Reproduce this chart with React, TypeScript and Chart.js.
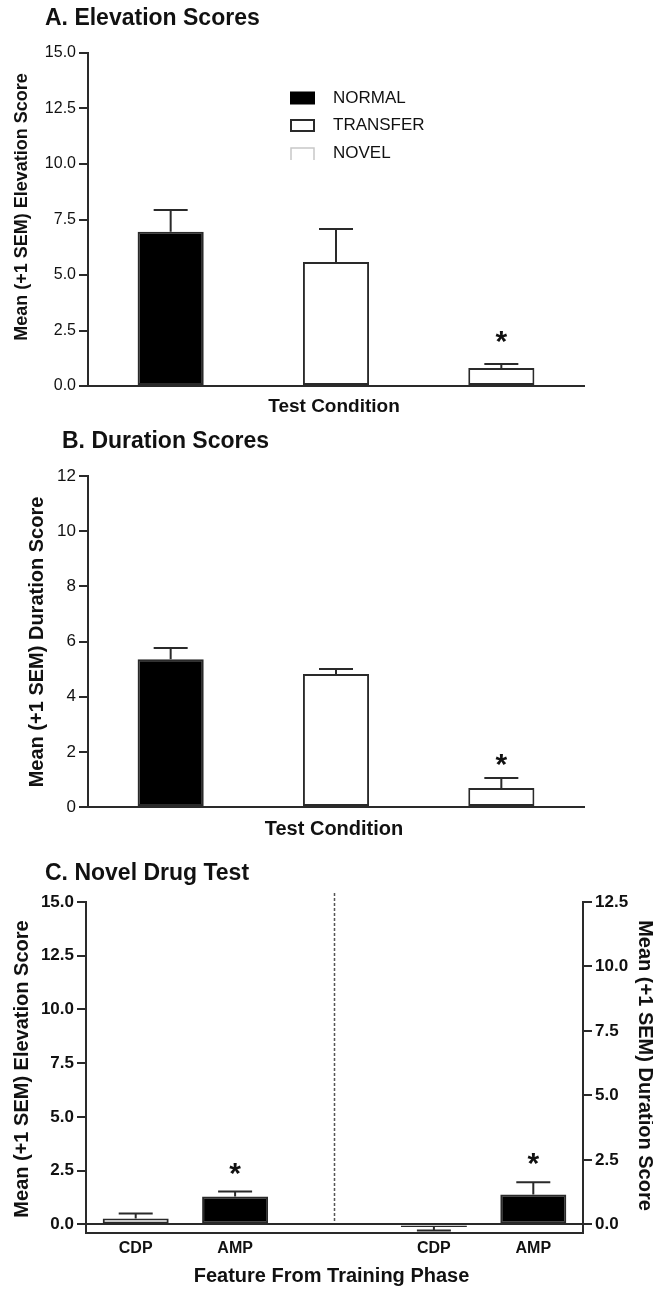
import React, { useEffect, useRef } from 'react';
import { Chart, registerables } from 'chart.js';

Chart.register(...registerables);

const FONT_FAMILY = '"Liberation Sans", Arial, Helvetica, sans-serif';
const INK = '#111111';
const AXIS = '#2a2a2a';

// ---------- Panel A: Elevation Scores ----------
const conditionLabels = ['NORMAL', 'TRANSFER', 'NOVEL'];
const elevationMeans = [6.95, 5.58, 0.81];
const elevationSem = [0.98, 1.49, 0.18];
const elevationSig = [false, false, true];
const elevationTicks = [0, 2.5, 5, 7.5, 10, 12.5, 15];

// ---------- Panel B: Duration Scores ----------
const durationMeans = [5.36, 4.82, 0.69];
const durationSem = [0.4, 0.18, 0.36];
const durationSig = [false, false, true];
const durationTicks = [0, 2, 4, 6, 8, 10, 12];

// ---------- Panel C: Novel Drug Test ----------
const featureLabels = ['CDP', 'AMP', '', 'CDP', 'AMP'];
const novelElevationMeans: (number | null)[] = [0.28, 1.3, null, null, null];
const novelElevationSem: (number | null)[] = [0.23, 0.23, null, null, null];
const novelDurationMeans: (number | null)[] = [null, null, null, -0.1, 1.16];
const novelDurationSem: (number | null)[] = [null, null, null, 0.14, 0.47];
const novelSig = [false, true, false, false, true];
const novelElevationTicks = [0, 2.5, 5, 7.5, 10, 12.5, 15];
const novelDurationTicks = [0, 2.5, 5, 7.5, 10, 12.5];

// styles
const conditionFills = ['#000000', '#ffffff', '#ffffff'];
const featureFills = ['#ffffff', '#000000', '#ffffff', '#ffffff', '#000000'];

type TextItem = {
  text: string;
  x: number;
  y: number;
  size: number;
  bold?: boolean;
  rot?: number;
  align?: CanvasTextAlign;
  baseline?: CanvasTextBaseline;
};

function font(size: number, bold?: boolean) {
  return `${bold ? 'bold ' : ''}${size}px ${FONT_FAMILY}`;
}

function textPlugin(items: TextItem[]) {
  return {
    id: 'texts',
    afterDraw(chart: any) {
      const ctx = chart.ctx as CanvasRenderingContext2D;
      items.forEach((it) => {
        ctx.save();
        ctx.translate(it.x, it.y);
        if (it.rot) ctx.rotate(it.rot);
        ctx.font = font(it.size, it.bold);
        ctx.fillStyle = INK;
        ctx.textAlign = it.align ?? 'center';
        ctx.textBaseline = it.baseline ?? 'middle';
        ctx.fillText(it.text, 0, 0);
        ctx.restore();
      });
    },
  };
}

function drawStar(ctx: CanvasRenderingContext2D, x: number, cy: number) {
  ctx.save();
  ctx.font = font(30, true);
  ctx.fillStyle = INK;
  ctx.textAlign = 'center';
  ctx.textBaseline = 'alphabetic';
  const m = ctx.measureText('*');
  const asc = m.actualBoundingBoxAscent || 21;
  const desc = m.actualBoundingBoxDescent || -10;
  const baseline = cy - (desc - asc) / 2;
  ctx.fillText('*', x, baseline);
  ctx.restore();
}

function errorBarPlugin(sems: (number | null)[][], sigs: boolean[], starGap: number) {
  return {
    id: 'errorBars',
    afterDatasetsDraw(chart: any) {
      const ctx = chart.ctx as CanvasRenderingContext2D;
      ctx.save();
      chart.data.datasets.forEach((ds: any, di: number) => {
        const meta = chart.getDatasetMeta(di);
        const yScale = chart.scales[meta.yAxisID];
        meta.data.forEach((el: any, i: number) => {
          const v = ds.data[i];
          const s = sems[di][i];
          if (v == null || s == null) return;
          const dir = v < 0 ? -1 : 1;
          const y0 = yScale.getPixelForValue(v);
          const y1 = yScale.getPixelForValue(v + dir * s);
          ctx.strokeStyle = AXIS;
          ctx.lineWidth = 2;
          ctx.beginPath();
          ctx.moveTo(el.x, y0);
          ctx.lineTo(el.x, y1);
          ctx.moveTo(el.x - 17, y1);
          ctx.lineTo(el.x + 17, y1);
          ctx.stroke();
          if (sigs[i]) drawStar(ctx, el.x, y1 - starGap);
        });
      });
      ctx.restore();
    },
  };
}

const legendPlugin = {
  id: 'legendA',
  afterDraw(chart: any) {
    const ctx = chart.ctx as CanvasRenderingContext2D;
    const rows = [98, 125.5, 153.5];
    ctx.save();
    conditionLabels.forEach((lab, i) => {
      const y = rows[i];
      const x0 = 290;
      const w = 25;
      const h = 13;
      if (i === 0) {
        ctx.fillStyle = '#000';
        ctx.fillRect(x0, y - h / 2, w, h);
      } else if (i === 1) {
        ctx.strokeStyle = AXIS;
        ctx.lineWidth = 2;
        ctx.strokeRect(x0 + 1, y - h / 2 + 1, w - 2, h - 2);
      } else {
        ctx.strokeStyle = '#c8c8c8';
        ctx.lineWidth = 1.5;
        ctx.beginPath();
        ctx.moveTo(x0 + 1, y + h / 2);
        ctx.lineTo(x0 + 1, y - h / 2 + 1);
        ctx.lineTo(x0 + w - 1, y - h / 2 + 1);
        ctx.lineTo(x0 + w - 1, y + h / 2);
        ctx.stroke();
      }
      ctx.font = font(17, false);
      ctx.fillStyle = INK;
      ctx.textAlign = 'left';
      ctx.textBaseline = 'middle';
      ctx.fillText(lab, 333, y);
    });
    ctx.restore();
  },
};

const dividerPlugin = {
  id: 'divider',
  afterDatasetsDraw(chart: any) {
    const ctx = chart.ctx as CanvasRenderingContext2D;
    const x = chart.scales.x.getPixelForValue(2);
    const yZero = chart.scales.yL.getPixelForValue(0);
    ctx.save();
    ctx.strokeStyle = '#555';
    ctx.lineWidth = 1.5;
    ctx.setLineDash([3, 2]);
    ctx.beginPath();
    ctx.moveTo(x, 48);
    ctx.lineTo(x, yZero - 2);
    ctx.stroke();
    ctx.restore();
  },
};

function yAxis(o: {
  min: number;
  max: number;
  ticks: number[];
  fmt: (v: number) => string;
  size: number;
  bold: boolean;
  width: number;
  position: 'left' | 'right';
  zeroLine?: boolean;
}) {
  return {
    type: 'linear',
    position: o.position,
    min: o.min,
    max: o.max,
    afterBuildTicks: (s: any) => {
      s.ticks = o.ticks.map((v) => ({ value: v }));
    },
    afterFit: (s: any) => {
      s.width = o.width;
    },
    border: { display: true, color: AXIS, width: 2 },
    grid: {
      display: true,
      drawOnChartArea: !!o.zeroLine,
      color: (c: any) => (o.zeroLine && c.tick && c.tick.value === 0 ? AXIS : 'rgba(0,0,0,0)'),
      lineWidth: 2,
      drawTicks: true,
      tickLength: 9,
      tickColor: AXIS,
      tickWidth: 2,
    },
    ticks: {
      padding: 3,
      color: INK,
      font: { family: FONT_FAMILY, size: o.size, weight: o.bold ? 'bold' : 'normal' },
      callback: (v: any) => o.fmt(Number(v)),
    },
  };
}

function xAxisPlain(height: number) {
  return {
    type: 'category',
    offset: true,
    afterFit: (s: any) => {
      s.height = height;
    },
    border: { display: true, color: AXIS, width: 2 },
    grid: { display: false, drawTicks: false },
    ticks: { display: false },
  };
}

const baseOptions = {
  responsive: false,
  animation: false,
  events: [],
};

function buildA(): any {
  return {
    type: 'bar',
    data: {
      labels: conditionLabels,
      datasets: [
        {
          data: elevationMeans,
          backgroundColor: conditionFills,
          borderColor: AXIS,
          borderWidth: 2,
          borderSkipped: false,
          barPercentage: 0.5,
          categoryPercentage: 0.8,
        },
      ],
    },
    options: {
      ...baseOptions,
      layout: { padding: { top: 53, right: 69, bottom: 0, left: 0 } },
      plugins: { legend: { display: false }, tooltip: { enabled: false } },
      scales: {
        x: xAxisPlain(39),
        y: yAxis({
          min: 0,
          max: 15,
          ticks: elevationTicks,
          fmt: (v) => v.toFixed(1),
          size: 16,
          bold: false,
          width: 88,
          position: 'left',
        }),
      },
    },
    plugins: [
      errorBarPlugin([elevationSem], elevationSig, 27),
      legendPlugin,
      textPlugin([
        { text: 'A. Elevation Scores', x: 45, y: 25, size: 23, bold: true, align: 'left', baseline: 'alphabetic' },
        { text: 'Mean (+1 SEM) Elevation Score', x: 22, y: 207, size: 18, bold: true, rot: -Math.PI / 2 },
        { text: 'Test Condition', x: 334, y: 407, size: 19, bold: true },
      ]),
    ],
  };
}

function buildB(): any {
  return {
    type: 'bar',
    data: {
      labels: conditionLabels,
      datasets: [
        {
          data: durationMeans,
          backgroundColor: conditionFills,
          borderColor: AXIS,
          borderWidth: 2,
          borderSkipped: false,
          barPercentage: 0.5,
          categoryPercentage: 0.8,
        },
      ],
    },
    options: {
      ...baseOptions,
      layout: { padding: { top: 51, right: 69, bottom: 0, left: 0 } },
      plugins: { legend: { display: false }, tooltip: { enabled: false } },
      scales: {
        x: xAxisPlain(38),
        y: yAxis({
          min: 0,
          max: 12,
          ticks: durationTicks,
          fmt: (v) => String(v),
          size: 17,
          bold: false,
          width: 88,
          position: 'left',
        }),
      },
    },
    plugins: [
      errorBarPlugin([durationSem], durationSig, 18),
      textPlugin([
        { text: 'B. Duration Scores', x: 62, y: 23, size: 23, bold: true, align: 'left', baseline: 'alphabetic' },
        { text: 'Mean (+1 SEM) Duration Score', x: 37, y: 217, size: 20, bold: true, rot: -Math.PI / 2 },
        { text: 'Test Condition', x: 334, y: 404, size: 20, bold: true },
      ]),
    ],
  };
}

function buildC(): any {
  return {
    type: 'bar',
    data: {
      labels: featureLabels,
      datasets: [
        {
          label: 'Elevation',
          data: novelElevationMeans,
          yAxisID: 'yL',
          backgroundColor: featureFills,
          borderColor: AXIS,
          borderWidth: 2,
          borderSkipped: false,
          grouped: false,
          barPercentage: 0.83,
          categoryPercentage: 0.8,
        },
        {
          label: 'Duration',
          data: novelDurationMeans,
          yAxisID: 'yR',
          backgroundColor: featureFills,
          borderColor: AXIS,
          borderWidth: 2,
          borderSkipped: false,
          grouped: false,
          barPercentage: 0.83,
          categoryPercentage: 0.8,
        },
      ],
    },
    options: {
      ...baseOptions,
      layout: { padding: { top: 57, right: 0, bottom: 0, left: 0 } },
      plugins: { legend: { display: false }, tooltip: { enabled: false } },
      scales: {
        x: {
          type: 'category',
          offset: true,
          afterFit: (s: any) => {
            s.height = 56;
          },
          border: { display: true, color: AXIS, width: 2 },
          grid: { display: false, drawTicks: false },
          ticks: {
            display: true,
            autoSkip: false,
            maxRotation: 0,
            padding: 6,
            color: INK,
            font: { family: FONT_FAMILY, size: 16, weight: 'bold' },
          },
        },
        yL: yAxis({
          min: -0.4,
          max: 15,
          ticks: novelElevationTicks,
          fmt: (v) => v.toFixed(1),
          size: 17,
          bold: true,
          width: 86,
          position: 'left',
          zeroLine: true,
        }),
        yR: yAxis({
          min: -1 / 3,
          max: 12.5,
          ticks: novelDurationTicks,
          fmt: (v) => v.toFixed(1),
          size: 17,
          bold: true,
          width: 70,
          position: 'right',
        }),
      },
    },
    plugins: [
      dividerPlugin,
      errorBarPlugin([novelElevationSem, novelDurationSem], novelSig, 23),
      textPlugin([
        { text: 'C. Novel Drug Test', x: 45, y: 35, size: 23, bold: true, align: 'left', baseline: 'alphabetic' },
        { text: 'Mean (+1 SEM) Elevation Score', x: 22.5, y: 224, size: 20, bold: true, rot: -Math.PI / 2 },
        { text: 'Mean (+1 SEM) Duration Score', x: 645, y: 220.5, size: 20, bold: true, rot: Math.PI / 2 },
        { text: 'Feature From Training Phase', x: 331.5, y: 431, size: 20, bold: true },
      ]),
    ],
  };
}

function ChartCanvas({ top, height, build }: { top: number; height: number; build: () => any }) {
  const ref = useRef<HTMLCanvasElement>(null);
  useEffect(() => {
    const chart = new Chart(ref.current as HTMLCanvasElement, build());
    return () => chart.destroy();
  }, []);
  return (
    <canvas
      ref={ref}
      width={653}
      height={height}
      style={{ position: 'absolute', left: 0, top, width: 653, height }}
    />
  );
}

export default function App() {
  return (
    <div
      style={{
        position: 'absolute',
        left: 0,
        top: 0,
        width: 653,
        height: 1289,
        background: '#ffffff',
        overflow: 'hidden',
      }}
    >
      <ChartCanvas top={0} height={425} build={buildA} />
      <ChartCanvas top={425} height={420} build={buildB} />
      <ChartCanvas top={845} height={444} build={buildC} />
    </div>
  );
}
